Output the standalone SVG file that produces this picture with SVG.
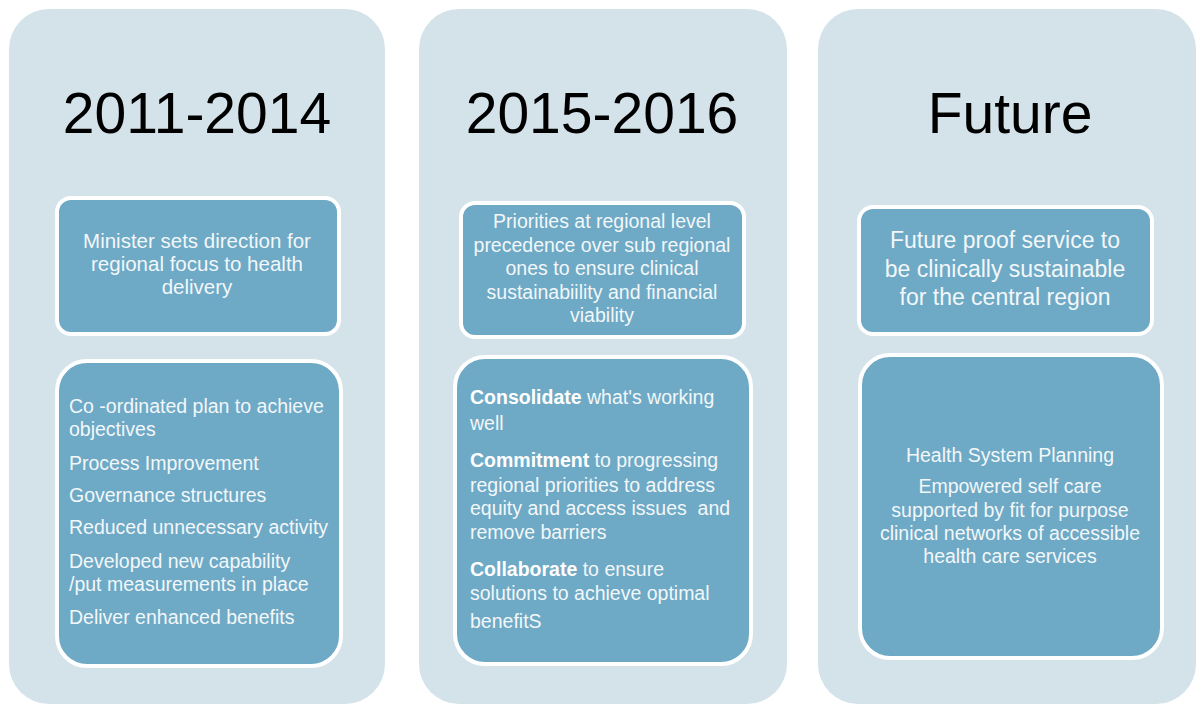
<svg xmlns="http://www.w3.org/2000/svg" width="1196" height="705" viewBox="0 0 1196 705">
<style>
.panel{fill:#d4e3ea;}
.box{fill:#6ea9c5;stroke:#ffffff;stroke-width:4;}
.title{font-family:"Liberation Sans",Arial,sans-serif;font-size:57px;fill:#000000;text-anchor:middle;}
.t{font-family:"Liberation Sans",Arial,sans-serif;font-size:19.5px;fill:#f2f7fa;}
.c{text-anchor:middle;}
.m{font-size:20.5px;}
.big{font-size:23px;}
.b{font-weight:bold;fill:#ffffff;}
</style>
<rect width="1196" height="705" fill="#ffffff"/>
<g id="panel-2011-2014">
<rect class="panel" x="9" y="9" width="376" height="695" rx="40"/>
<text class="title" x="197" y="133">2011-2014</text>
</g>
<g id="panel-2015-2016">
<rect class="panel" x="419" y="9" width="368" height="695" rx="40"/>
<text class="title" x="602" y="133">2015-2016</text>
</g>
<g id="panel-future">
<rect class="panel" x="818" y="9" width="378" height="695" rx="40"/>
<text class="title" x="1010" y="133">Future</text>
</g>
<g id="connectors"></g>
<g id="box-minister">
<rect class="box" x="57" y="198" width="282" height="136" rx="14"/>
<text class="t c m" x="197" y="248">Minister sets direction for</text>
<text class="t c m" x="197" y="271">regional focus to health</text>
<text class="t c m" x="197" y="294">delivery</text>
</g>
<g id="box-2011-list">
<rect class="box" x="57" y="361" width="284" height="305" rx="30"/>
<text class="t" x="69" y="413">Co -ordinated plan to achieve</text>
<text class="t" x="69" y="436">objectives</text>
<text class="t" x="69" y="470">Process Improvement</text>
<text class="t" x="69" y="502">Governance structures</text>
<text class="t" x="69" y="534">Reduced unnecessary activity</text>
<text class="t" x="69" y="568">Developed new capability</text>
<text class="t" x="69" y="591">/put measurements in place</text>
<text class="t" x="69" y="624">Deliver enhanced benefits</text>
</g>
<g id="box-priorities">
<rect class="box" x="461" y="203" width="283" height="134" rx="14"/>
<text class="t c" x="602" y="228">Priorities at regional level</text>
<text class="t c" x="602" y="252">precedence over sub regional</text>
<text class="t c" x="602" y="275">ones to ensure clinical</text>
<text class="t c" x="602" y="299">sustainabiility and financial</text>
<text class="t c" x="602" y="322">viability</text>
</g>
<g id="box-2015-list">
<rect class="box" x="455" y="357" width="296" height="307" rx="30"/>
<text class="t" x="470" y="404"><tspan class="b">Consolidate</tspan> what's working</text>
<text class="t" x="470" y="430">well</text>
<text class="t" x="470" y="467"><tspan class="b">Commitment</tspan> to progressing</text>
<text class="t" x="470" y="492">regional priorities to address</text>
<text class="t" x="470" y="515" xml:space="preserve">equity and access issues  and</text>
<text class="t" x="470" y="539">remove barriers</text>
<text class="t" x="470" y="576"><tspan class="b">Collaborate</tspan> to ensure</text>
<text class="t" x="470" y="600">solutions to achieve optimal</text>
<text class="t" x="470" y="628">benefitS</text>
</g>
<g id="box-future-proof">
<rect class="box" x="859" y="207" width="293" height="127" rx="14"/>
<text class="t c big" x="1005" y="248">Future proof service to</text>
<text class="t c big" x="1005" y="277">be clinically sustainable</text>
<text class="t c big" x="1005" y="305">for the central region</text>
</g>
<g id="box-future-list">
<rect class="box" x="860" y="355" width="302" height="303" rx="30"/>
<text class="t c" x="1010" y="462">Health System Planning</text>
<text class="t c" x="1010" y="493">Empowered self care</text>
<text class="t c" x="1010" y="517">supported by fit for purpose</text>
<text class="t c" x="1010" y="540">clinical networks of accessible</text>
<text class="t c" x="1010" y="563">health care services</text>
</g>
</svg>
